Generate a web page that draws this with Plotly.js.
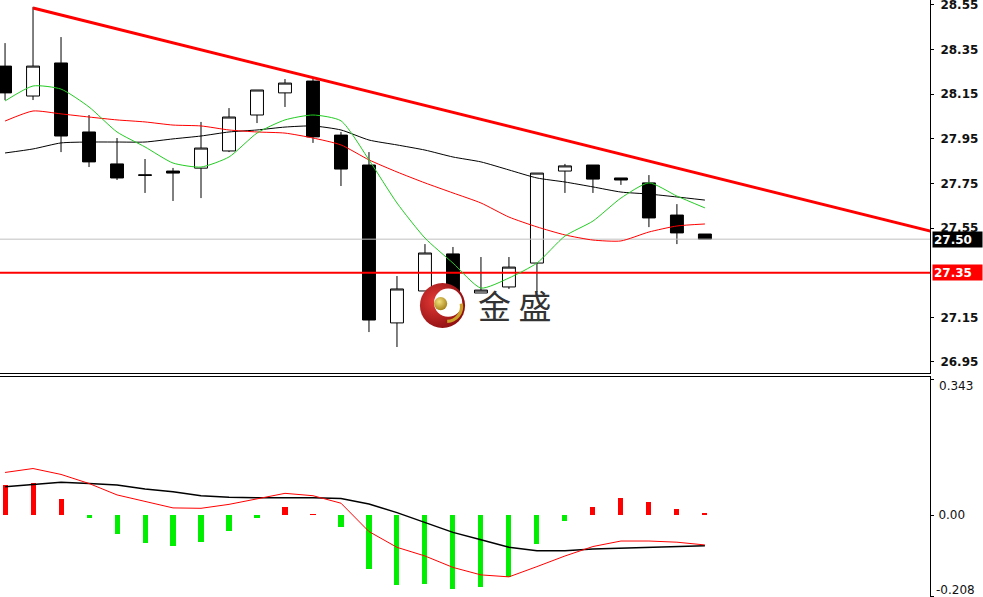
<!DOCTYPE html>
<html>
<head>
<meta charset="utf-8">
<script src="https://cdn.plot.ly/plotly-3.0.1.min.js"></script>
<style>html,body{margin:0;padding:0;background:#fff;}#chart{width:983px;height:597px;}</style>
</head>
<body>
<div id="chart"></div>
<script>
// ---- data ----
const idx = [0,1,2,3,4,5,6,7,8,9,10,11,12,13,14,15,16,17,18,19,20,21,22,23,24,25];
const openP  = [28.275,28.141,28.289,27.980,27.837,27.788,27.805,27.818,27.895,28.056,28.155,28.208,27.966,27.832,27.125,27.268,27.434,27.259,27.286,27.393,27.805,27.832,27.774,27.752,27.608,27.523];
const highP  = [28.378,28.540,28.405,28.056,27.953,27.859,27.819,28.025,28.087,28.168,28.217,28.217,27.980,27.890,27.335,27.478,27.465,27.420,27.420,27.796,27.837,27.832,27.774,27.787,27.657,27.523];
const lowP   = [28.123,28.123,27.890,27.823,27.765,27.707,27.671,27.684,27.890,28.020,28.092,27.931,27.738,27.084,27.017,27.268,27.228,27.259,27.277,27.263,27.707,27.707,27.743,27.554,27.478,27.500];
const closeP = [28.155,28.275,27.962,27.846,27.774,27.786,27.796,27.908,28.047,28.168,28.199,27.958,27.814,27.138,27.277,27.438,27.245,27.272,27.375,27.796,27.828,27.769,27.765,27.595,27.528,27.500];

const maFast = [28.119,28.186,28.172,28.092,27.980,27.913,27.841,27.823,27.868,27.975,28.034,28.056,28.030,27.855,27.662,27.505,27.393,27.281,27.326,27.393,27.514,27.581,27.684,27.752,27.693,27.640];
const maMid  = [28.029,28.074,28.061,28.047,28.034,28.025,28.011,28.007,27.989,27.980,27.975,27.953,27.922,27.855,27.801,27.752,27.707,27.662,27.599,27.555,27.519,27.496,27.492,27.532,27.559,27.568];
const maSlow = [27.886,27.904,27.931,27.935,27.935,27.935,27.949,27.962,27.980,27.989,28.002,28.007,27.989,27.944,27.922,27.899,27.868,27.846,27.810,27.774,27.756,27.734,27.711,27.702,27.689,27.675];

const trendX = [1, 34];
const trendY = [28.535, 27.507];
const supportLevel = 27.35;
const lastPrice = 27.50;

const macdHist  = [0.076,0.082,0.040,-0.008,-0.048,-0.072,-0.078,-0.068,-0.041,-0.007,0.021,0.003,-0.030,-0.138,-0.178,-0.175,-0.188,-0.182,-0.157,-0.074,-0.014,0.020,0.042,0.033,0.016,0.004];
const macdFast  = [0.108,0.118,0.103,0.080,0.051,0.034,0.018,0.017,0.027,0.041,0.055,0.049,0.030,-0.042,-0.082,-0.104,-0.133,-0.152,-0.157,-0.131,-0.104,-0.080,-0.066,-0.066,-0.069,-0.076];
const macdSlow  = [0.072,0.078,0.083,0.080,0.076,0.066,0.059,0.049,0.045,0.044,0.044,0.044,0.042,0.028,0.006,-0.019,-0.044,-0.063,-0.082,-0.091,-0.091,-0.086,-0.084,-0.082,-0.079,-0.078];

const priceTicks = [28.55,28.35,28.15,27.95,27.75,27.55,27.15,26.95];

// ---- traces ----
const traces = [
  {type:'scatter', mode:'lines', x:[-5,40], y:[lastPrice,lastPrice], line:{color:'#c0c0c0', width:1}, hoverinfo:'skip', xaxis:'x', yaxis:'y'},
  {type:'scatter', mode:'lines', x:[-5,40], y:[supportLevel,supportLevel], line:{color:'#ff0000', width:2}, hoverinfo:'skip', xaxis:'x', yaxis:'y'},
  {type:'scatter', mode:'lines', x:trendX, y:trendY, line:{color:'#ff0000', width:3}, hoverinfo:'skip', xaxis:'x', yaxis:'y'},
  {type:'scatter', mode:'lines', x:idx, y:maSlow, line:{color:'#000000', width:1, shape:'spline', smoothing:0.6}, xaxis:'x', yaxis:'y'},
  {type:'scatter', mode:'lines', x:idx, y:maMid, line:{color:'#ff0000', width:1, shape:'spline', smoothing:0.6}, xaxis:'x', yaxis:'y'},
  {type:'scatter', mode:'lines', x:idx, y:maFast, line:{color:'#22cc22', width:1, shape:'spline', smoothing:0.6}, xaxis:'x', yaxis:'y'},
  {type:'candlestick', x:idx, open:openP, high:highP, low:lowP, close:closeP,
   increasing:{line:{color:'#000000', width:1}, fillcolor:'#ffffff'},
   decreasing:{line:{color:'#000000', width:1}, fillcolor:'#000000'},
   whiskerwidth:0, xaxis:'x', yaxis:'y'},
  {type:'bar', x:idx, y:macdHist, width:0.18,
   marker:{color: macdHist.map(v => v >= 0 ? '#ff0000' : '#00ee00'), line:{width:0}},
   xaxis:'x2', yaxis:'y2'},
  {type:'scatter', mode:'lines', x:idx, y:macdSlow, line:{color:'#000000', width:1.5}, xaxis:'x2', yaxis:'y2'},
  {type:'scatter', mode:'lines', x:idx, y:macdFast, line:{color:'#ff0000', width:1}, xaxis:'x2', yaxis:'y2'}
];

const logoSvg = "<svg xmlns='http://www.w3.org/2000/svg' viewBox='0 0 100 100'>" +
  "<defs><radialGradient id='g' cx='35%' cy='40%' r='70%'><stop offset='0' stop-color='#e43a36'/><stop offset='1' stop-color='#8a0c10'/></radialGradient>" +
  "<radialGradient id='b' cx='40%' cy='35%' r='65%'><stop offset='0' stop-color='#f4e07c'/><stop offset='1' stop-color='#a8841a'/></radialGradient></defs>" +
  "<circle cx='50' cy='50' r='48' fill='url(#g)'/>" +
  "<circle cx='62' cy='44' r='30' fill='#ffffff'/>" +
  "<circle cx='46' cy='46' r='14' fill='url(#b)'/>" +
  "<path d='M 90 46 A 32 32 0 0 1 60 84' stroke='#c9a227' stroke-width='7' fill='none'/>" +
  "</svg>";

const W = 983, H = 597, plotW = 930;
const layout = {
  width: W, height: H,
  margin: {l:0, r:W-plotW, t:0, b:0, pad:0},
  paper_bgcolor:'#ffffff', plot_bgcolor:'#ffffff',
  showlegend:false,
  boxgap: 0.34,
  bargap: 0,
  font:{family:'DejaVu Sans', size:12, color:'#000'},
  xaxis: {domain:[0,1], range:[-0.18,33.04], anchor:'y', showticklabels:false, showgrid:false, zeroline:false,
          showline:true, linecolor:'#000', linewidth:1, ticks:'', rangeslider:{visible:false}, fixedrange:true},
  xaxis2:{domain:[0,1], range:[-0.18,33.04], anchor:'y2', side:'top', showticklabels:false, showgrid:false, zeroline:false,
          showline:true, linecolor:'#000', linewidth:1, ticks:'', fixedrange:true},
  yaxis: {domain:[1-373/H, 1], range:[26.9007, 28.571], side:'right', anchor:'x',
          tickvals: priceTicks, ticktext: priceTicks.map(v => v.toFixed(2)),
          showgrid:false, zeroline:false, showline:true, linecolor:'#000', linewidth:1,
          ticks:'outside', ticklen:3, tickcolor:'#000', ticklabelstandoff:4, ticklabeloverflow:'allow',
          tickfont:{family:'DejaVu Sans', size:12, color:'#111', weight:'bold'}},
  yaxis2:{domain:[0, 220/H], range:[-0.2081, 0.3503], side:'right', anchor:'x2',
          tickvals:[0.343, 0, -0.208], ticktext:['', '0.00', ''],
          showgrid:false, zeroline:false, showline:true, linecolor:'#000', linewidth:1,
          ticks:'outside', ticklen:3, tickcolor:'#000', ticklabelstandoff:2,
          tickfont:{family:'DejaVu Sans', size:12, color:'#111'}},
  annotations: [
    {xref:'paper', yref:'y', x:932/plotW, y:lastPrice, xanchor:'left', yanchor:'middle', text:'27.50',
     showarrow:false, bgcolor:'#000000', width:47, height:13, align:'left',
     font:{family:'DejaVu Sans', size:12, color:'#ffffff', weight:'bold'}},
    {xref:'paper', yref:'y', x:932/plotW, y:supportLevel, xanchor:'left', yanchor:'middle', text:'27.35',
     showarrow:false, bgcolor:'#ff0000', width:47, height:13, align:'left',
     font:{family:'DejaVu Sans', size:12, color:'#ffffff', weight:'bold'}},
    {xref:'paper', yref:'paper', x:937/plotW, y:1-386/H, xanchor:'left', yanchor:'middle', text:'0.343',
     showarrow:false, font:{family:'DejaVu Sans', size:12, color:'#111'}},
    {xref:'paper', yref:'paper', x:934/plotW, y:1-590/H, xanchor:'left', yanchor:'middle', text:'-0.208',
     showarrow:false, font:{family:'DejaVu Sans', size:12, color:'#111'}},
    {xref:'paper', yref:'paper', x:514/plotW, y:1-305/H, xanchor:'center', yanchor:'middle', text:'金 盛',
     showarrow:false, font:{family:'Noto Sans CJK SC', size:33, color:'#333333'}}
  ],
  images: [
    {source:'data:image/svg+xml;charset=utf-8,' + encodeURIComponent(logoSvg),
     xref:'paper', yref:'paper', x:419/plotW, y:1-282/H, sizex:47/plotW, sizey:47/H,
     xanchor:'left', yanchor:'top', sizing:'stretch', layer:'above'}
  ]
};

Plotly.newPlot('chart', traces, layout, {staticPlot:true, displayModeBar:false});
</script>
</body>
</html>
